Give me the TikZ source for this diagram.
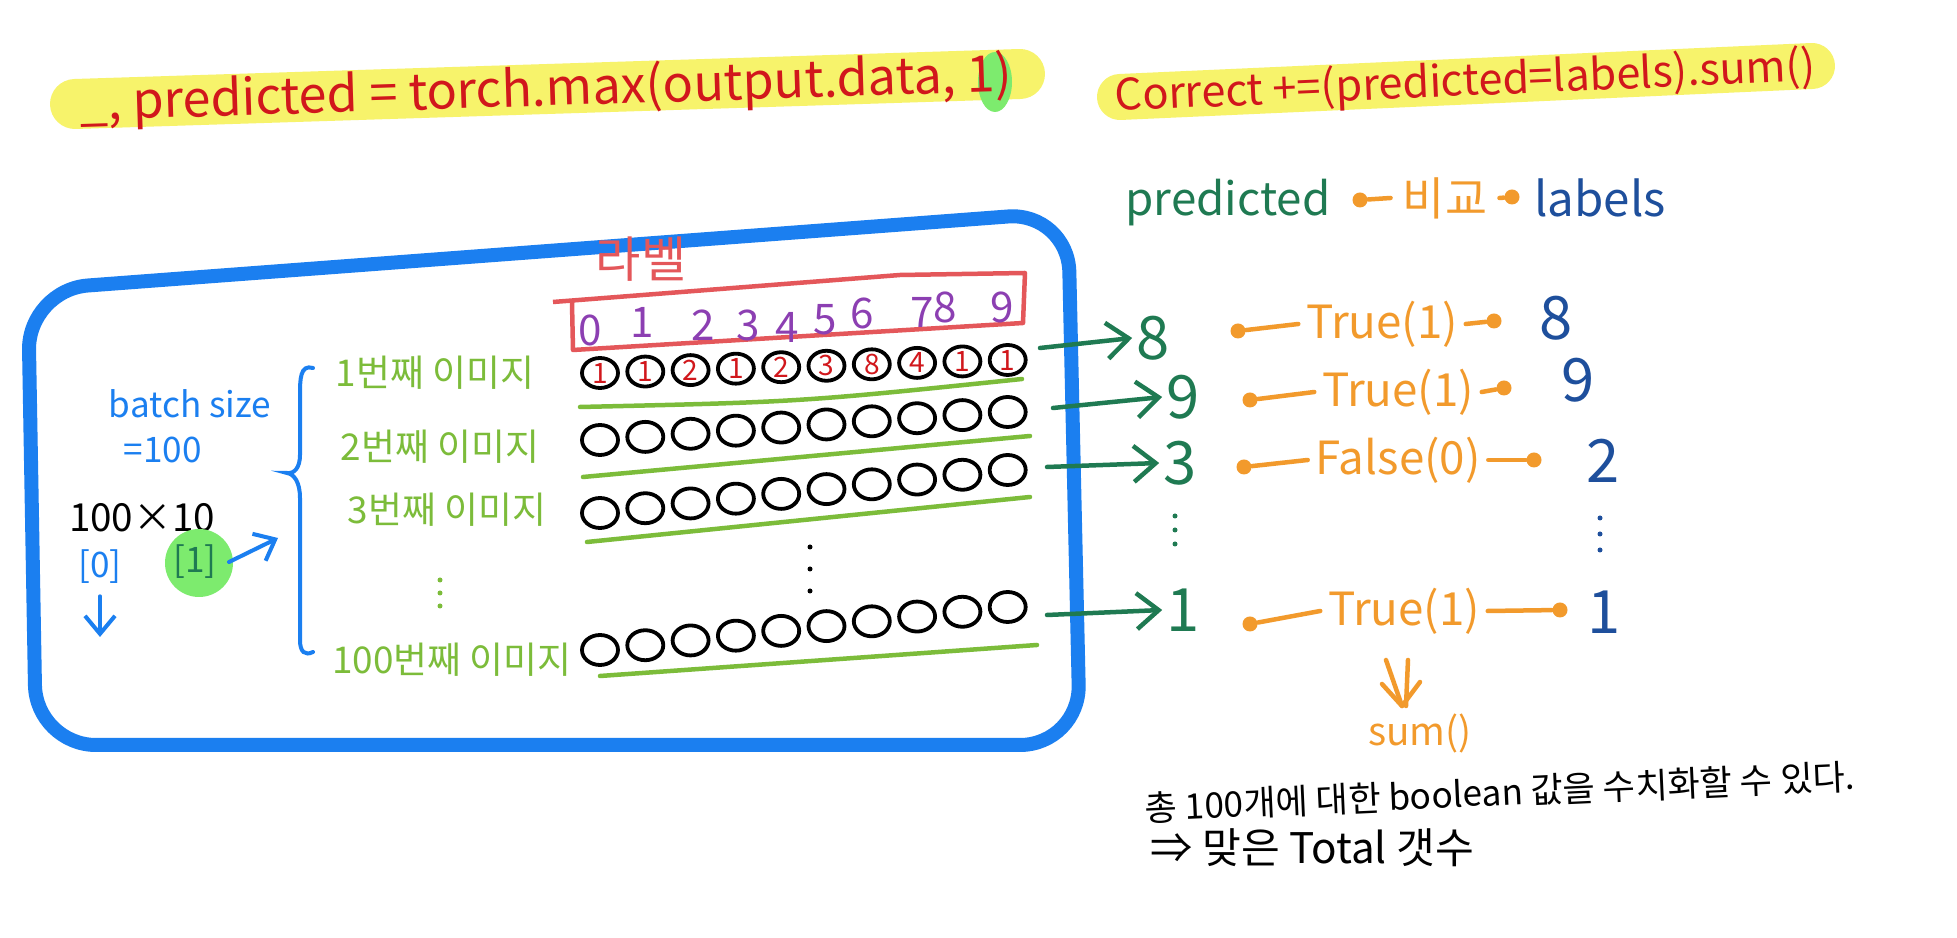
\documentclass[tikz,border=0pt]{standalone}
\usepackage{fontspec}
\setmainfont{Noto Sans CJK KR}
\usetikzlibrary{arrows.meta}
\usepackage{xcolor}
\definecolor{MarkerYellow}{HTML}{F7F36B}
\definecolor{InkRed}{HTML}{D1171C}
\definecolor{BlobGreen}{HTML}{7DEB6E}
\definecolor{FrameBlue}{HTML}{1B7FF0}
\definecolor{PredGreen}{HTML}{1F7A52}
\definecolor{RowGreen}{HTML}{7CBC3A}
\definecolor{BoolOrange}{HTML}{F29A2C}
\definecolor{LabelBlue}{HTML}{1E4F9C}
\definecolor{DigitPurple}{HTML}{8C3FB2}
\definecolor{BoxRed}{HTML}{E4575A}

\begin{document}
\begin{tikzpicture}[x=0.1mm, y=-0.1mm,
  fs/.style={font=\fontsize{#1}{#1}\selectfont},
  rowlbl/.style={fs=10.5, text=RowGreen, inner sep=1pt},
  prednum/.style={fs=17, text=PredGreen, inner sep=1pt},
  labnum/.style={fs=17, text=LabelBlue, inner sep=1pt},
  boolval/.style={fs=13, text=BoolOrange, inner sep=2pt},
  odot/.style={circle, fill=BoolOrange, inner sep=0pt, minimum size=1.5mm},
  oline/.style={BoolOrange, line width=0.45mm, line cap=round},
  garrow/.style={PredGreen, line width=0.45mm, line cap=round, -{Straight Barb[length=2.2mm, width=3.6mm]}},
  barrow/.style={FrameBlue, line width=0.4mm, line cap=round, -{Straight Barb[length=1.8mm, width=3mm]}},
  gline/.style={RowGreen, line width=0.45mm, line cap=round},
  ring/.style={black, line width=0.38mm}]
  \fill[white] (0,0) rectangle (1957,938);
  \useasboundingbox (0,0) rectangle (1957,938);

  % code lines on marker
  \draw[MarkerYellow, line width=5mm, line cap=round] (75,104) -- (1020,74);
  \fill[BlobGreen] (995,82) ellipse [x radius=17, y radius=30];
  \node[fs=14.3, text=InkRed, rotate=1.8] (maxline) at (546,91) {\_, predicted = torch.max(output.data, 1)};
  \draw[MarkerYellow, line width=4.6mm, line cap=round] (1120,97) -- (1812,66);
  \node[fs=12.3, text=InkRed, rotate=2.5] (sumline) at (1465,83) {Correct +=(predicted=labels).sum()};

  % compare header
  \node[fs=13, text=PredGreen] (predhd) at (1228,203) {predicted};
  \node[odot] (pdl) at (1360,200) {};
  \node[fs=13, text=BoolOrange] (cmp) at (1445,198) {비교};
  \node[odot] (pdr) at (1512,197) {};
  \node[fs=13.5, text=LabelBlue] (labhd) at (1600,198) {labels};
  \draw[oline] (pdl) -- (cmp.west);
  \draw[oline] (cmp.east) -- (pdr);

  % batch frame
  \draw[FrameBlue, line width=1.4mm, rounded corners=6mm] (28,290) -- (1068,212) -- (1080,745) -- (36,745) -- cycle;

  \node[fs=10, text=FrameBlue] (bsz) at (190,404) {batch size};
  \node[fs=10, text=FrameBlue] (beq) at (163,450) {=100};
  \node[fs=11] (shape) at (142,518) {100×10};
  \node[fs=10, text=FrameBlue] (idx0) at (100,567) {[0]};
  \fill[BlobGreen] (199,563) circle [radius=34];
  \node[fs=10, text=PredGreen] (idx1) at (195,562) {[1]};
  \coordinate (dn) at (100,637);
  \coordinate (brarr) at (278,538);
  \draw[barrow] (idx0.south) -- (dn);
  \draw[barrow] (idx1.east) -- (brarr);
  \draw[FrameBlue, line width=0.4mm, line cap=round] (313,368) .. controls (300,364) and (300,380) .. (300,395) -- (300,455) .. controls (300,468) and (294,474) .. (287,473) .. controls (294,474) and (300,482) .. (300,498) -- (300,640) .. controls (300,652) and (305,656) .. (313,652);

  \node[rowlbl] (r1) at (435,373) {1번째 이미지};
  \node[rowlbl] (r2) at (440,447) {2번째 이미지};
  \node[rowlbl] (r3) at (447,510) {3번째 이미지};
  \node[rowlbl] (r4) at (452,660) {100번째 이미지};
  \foreach \y in {580,593,606} \fill[RowGreen] (440,\y) circle [radius=2.5];

  % class header
  \node[fs=14, text=BoxRed] (lblhd) at (641,259) {라벨};
  \draw[BoxRed, line width=0.45mm, line join=round] (553,302) -- (900,275) -- (1025,273) -- (1023,323) -- (573,350) -- (572,303);
  \foreach \d/\x/\y in {0/590/330, 1/642/322, 2/703/325, 3/748/325, 4/787/327, 5/825/320, 6/862/313, 7/922/312, 8/945/307, 9/1002/307}
    \node[fs=12, text=DigitPurple, inner sep=0pt] (dg\d) at (\x,\y) {\d};

  % output rows
  \foreach \yl/\yr in {373/360, 440/412, 513/470, 650/607}
    \foreach \i in {0,...,9} {
      \pgfmathsetmacro{\cx}{600+45.3*\i}
      \pgfmathsetmacro{\cy}{\yl+(\yr-\yl)*\i/9}
      \draw[ring] (\cx,\cy) ellipse [x radius=18, y radius=15];
    }
  \foreach \d [count=\i from 0] in {1,1,2,1,2,3,8,4,1,1} {
    \pgfmathsetmacro{\cx}{600+45.3*\i}
    \pgfmathsetmacro{\cy}{373-13*\i/9}
    \node[fs=8, text=InkRed, inner sep=0pt] at (\cx,\cy) {\d};
  }
  \foreach \y in {547,569,591} \fill (810,\y) circle [radius=2.5];
  \draw[gline] (580,407) .. controls (800,402) .. (1022,379);
  \draw[gline] (583,477) -- (1030,436);
  \draw[gline] (587,542) -- (1030,497);
  \draw[gline] (600,676) -- (1037,645);

  % predictions
  \coordinate (e1) at (1040,348);
  \coordinate (e2) at (1053,408);
  \coordinate (e3) at (1047,467);
  \coordinate (e4) at (1047,615);
  \node[prednum] (p1) at (1153,338) {8};
  \node[prednum] (p2) at (1183,397) {9};
  \node[prednum] (p3) at (1180,463) {3};
  \node[prednum] (p4) at (1183,610) {1};
  \foreach \n in {1,...,4} \draw[garrow] (e\n) -- (p\n.west);
  \foreach \y in {516,530,544} \fill[PredGreen] (1175,\y) circle [radius=2.5];

  % comparison
  \foreach \n/\bx/\by/\tx/\ty/\rx/\ry/\lx/\ly/\v/\t in {
      1/1238/331/1382/324/1494/321/1556/318/8/True(1),
      2/1250/400/1398/392/1504/388/1578/380/9/True(1),
      3/1244/467/1398/460/1534/460/1603/461/2/False(0),
      4/1250/624/1404/611/1560/610/1604/612/1/True(1)} {
    \node[odot] (bl\n) at (\bx,\by) {};
    \node[boolval] (t\n) at (\tx,\ty) {\t};
    \node[odot] (br\n) at (\rx,\ry) {};
    \node[labnum] (l\n) at (\lx,\ly) {\v};
    \draw[oline] (bl\n) -- (t\n.west);
    \draw[oline] (t\n.east) -- (br\n);
  }
  \foreach \y in {518,534,550} \fill[LabelBlue] (1600,\y) circle [radius=2.5];

  % total
  \node[fs=11, text=BoolOrange, inner sep=0pt] (sum) at (1420,733) {sum()};
  \coordinate (dtop) at (1396,660);
  \coordinate (dtip) at (1402,706);
  \draw[oline, line join=round] ([xshift=-1mm]dtop) -- (dtip) ([xshift=1.2mm]dtop) -- ([xshift=0.4mm]dtip);
  \draw[oline, line join=round] ([xshift=-2mm, yshift=2.2mm]dtip) -- (dtip) -- ([xshift=1.8mm, yshift=2.4mm]dtip);

  \node[fs=10, rotate=2.6, inner sep=0pt] (note1) at (1500,792) {총 100개에 대한 boolean 값을 수치화할 수 있다.};
  \node[fs=12, anchor=west, inner sep=0pt] (note2) at (1150,848) {⇒ 맞은 Total 갯수};
\end{tikzpicture}
\end{document}
